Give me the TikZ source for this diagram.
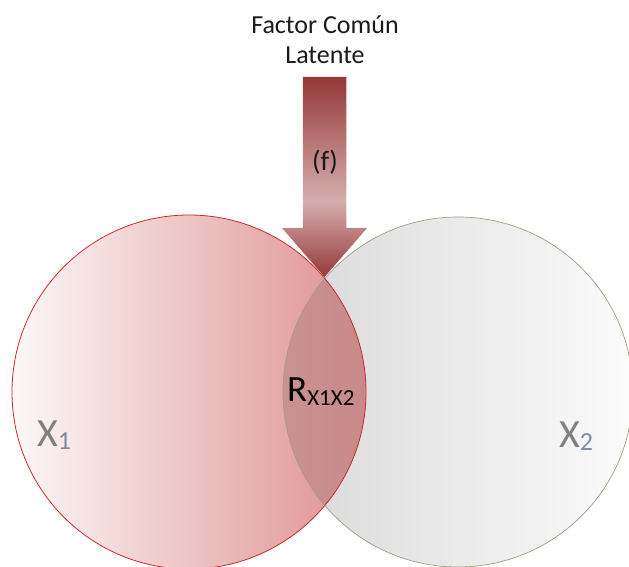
\documentclass[tikz,border=0pt]{standalone}
\usepackage{fontspec}
\setmainfont{Carlito}
\usepackage{xcolor}
\usepackage{tikz}
\usetikzlibrary{positioning}
\definecolor{vennRed}{HTML}{CC2A2A}
\definecolor{vennTan}{HTML}{A59C7D}
\definecolor{vennPinkLight}{HTML}{FCF8F8}
\definecolor{vennPinkMid}{HTML}{F1DADA}
\definecolor{vennPink}{HTML}{DE9090}
\definecolor{vennGreyDark}{HTML}{D9D9D9}
\definecolor{vennGreyLight}{HTML}{FBFBFB}
\definecolor{overlapLeft}{HTML}{C99292}
\definecolor{overlapRight}{HTML}{C86C6C}
\definecolor{arrowDark}{HTML}{953838}
\definecolor{arrowLight}{HTML}{D6AEAE}
\definecolor{labelGrey}{HTML}{808080}
\definecolor{labelBlue}{HTML}{7D8CA3}
\definecolor{titleInk}{HTML}{1A1A1A}
\pgfdeclareverticalshading{arrowshade}{100bp}{
  color(0bp)=(arrowDark); color(25bp)=(arrowDark);
  color(44bp)=(arrowLight); color(75bp)=(arrowDark); color(100bp)=(arrowDark)}
\tikzset{
  vennLeft/.style={
    circle,
    inner sep=0pt,
    minimum size=354pt,
    left color=vennPinkLight,
    middle color=vennPinkMid,
    right color=vennPink
  },
  vennRight/.style={
    circle,
    inner sep=0pt,
    minimum size=350pt,
    left color=vennGreyDark,
    right color=vennGreyLight
  },
  leftEdge/.style={
    draw=vennRed,
    line width=0.8pt
  },
  rightEdge/.style={
    draw=vennTan,
    line width=0.7pt
  },
  title/.style={
    font=\fontsize{26}{30}\selectfont,
    text=titleInk,
    align=center
  },
  setLabel/.style={
    anchor=base west,
    font=\fontsize{40}{44}\selectfont,
    text=labelGrey,
    inner sep=0pt
  }
}

\begin{document}
\begin{tikzpicture}[x=1pt,y=1pt]
  \useasboundingbox (0,0) rectangle (629,567);
  \node[vennRight] (c2) at (458,175) {};
  \node[vennLeft] (c1) at (189,175) {};
  \begin{scope}
    \clip (c1.center) circle[radius=177];
    \shade[left color=overlapLeft,right color=overlapRight] (c2.center) circle[radius=175];
  \end{scope}
  \draw[rightEdge] (c2.center) circle[radius=175];
  \draw[leftEdge] (c1.center) circle[radius=177];
  \coordinate (tip) at (324.5,290);
  \node[title] (factor) at (325,527) {Factor Común\\Latente};
  % block arrow down to the overlap
  \shade[shading=arrowshade] (tip) -- ++(-42.5,49) -- ++(20.8,0) -- ++(0,151)
    -- ++(43.5,0) -- ++(0,-151) -- ++(20.8,0) -- cycle;
  \node[font=\fontsize{28}{30}\selectfont,text=titleInk] (f) at (325,405) {(f)};
  \node[anchor=base west,inner sep=0pt,text=black] (r) at (287,165)
    {{\fontsize{37}{40}\selectfont R}\raisebox{-4pt}{\fontsize{23}{25}\selectfont X1X2}};
  \node[setLabel] (x1) at (37,120)
    {X\raisebox{-3pt}{\fontsize{26}{28}\selectfont\color{labelBlue}1}};
  \node[setLabel] (x2) at (559,119)
    {X\raisebox{-3pt}{\fontsize{26}{28}\selectfont\color{labelBlue}2}};
\end{tikzpicture}
\end{document}
